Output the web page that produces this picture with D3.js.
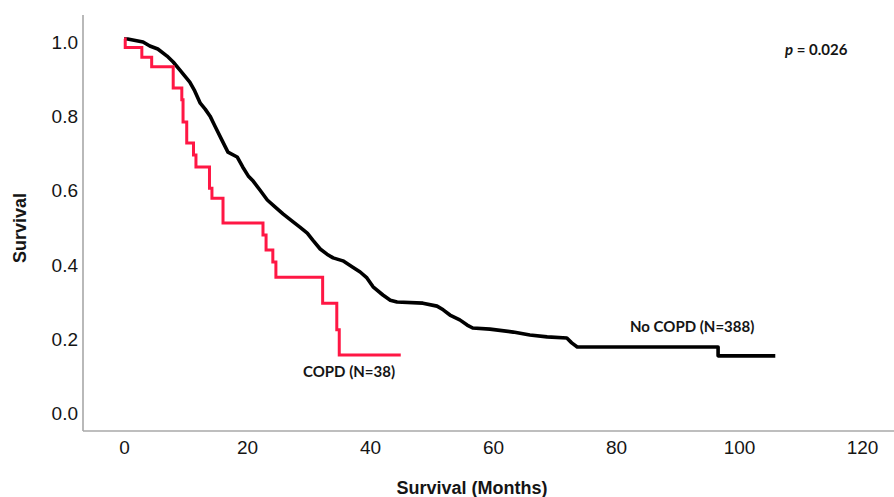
<!DOCTYPE html>
<html>
<head>
<meta charset="utf-8">
<script src="https://cdn.jsdelivr.net/npm/d3@7"></script>
<style>
  html, body { margin: 0; padding: 0; background: #fff; }
  .tick text { font-family: "Liberation Sans", Arial, sans-serif; font-size: 19px; fill: #151515; }
  .note { font-family: Lato, "Open Sans", sans-serif; font-weight: bold; font-size: 15px; fill: #151515; }
  .aTitle { font-family: "Liberation Sans", Arial, sans-serif; font-weight: bold; font-size: 18px; fill: #151515; }
</style>
</head>
<body>
<div id="chart"></div>
<script>
// Kaplan-Meier survival, COPD vs no COPD

// Data
// =========================
var xTicks = [0, 20, 40, 60, 80, 100, 120];
var yTicks = [0.0, 0.2, 0.4, 0.6, 0.8, 1.0];

// No COPD (N=388): many small steps, traced as points along the curve
var noCopdTime = [0, 0.6, 3.1, 4.2, 5.5, 7.0, 8.0, 9.1, 9.9, 10.7, 11.5, 12.4, 13.2, 14.0, 14.8, 15.9, 16.9,
    18.4, 19.3, 20.2, 21.0, 22.1, 23.3, 24.6, 25.9, 27.5, 28.6, 29.8, 30.7, 31.9, 33.0, 34.0, 35.6,
    37.2, 38.4, 39.5, 40.5, 42.1, 43.3, 44.4, 48.6, 50.9, 51.9, 53.0, 54.6, 55.8, 56.7, 59.5, 63.3,
    66.0, 68.8, 72.0, 72.8, 73.7, 96.6, 96.6, 105.9];
var noCopdSurv = [1.0, 1.0, 0.992, 0.981, 0.973, 0.954, 0.938, 0.916, 0.900, 0.884, 0.860, 0.827, 0.811, 0.792, 0.765, 0.728, 0.695,
    0.682, 0.655, 0.631, 0.617, 0.593, 0.566, 0.547, 0.528, 0.507, 0.493, 0.477, 0.458, 0.434, 0.420, 0.410, 0.402,
    0.385, 0.372, 0.356, 0.332, 0.310, 0.296, 0.291, 0.288, 0.280, 0.270, 0.256, 0.243, 0.229, 0.221, 0.218, 0.210,
    0.202, 0.197, 0.194, 0.181, 0.170, 0.170, 0.146, 0.146];

// COPD (N=38): time of each step and survival after it
var copdTime = [0, 0.2, 2.9, 4.5, 8.0, 9.4, 9.6, 10.2, 11.3, 11.7, 13.9, 14.3, 16.1, 22.6, 23.1, 24.2, 24.7, 32.3, 34.6, 35.0, 45.0];
var copdSurv = [1.0, 0.977, 0.951, 0.925, 0.868, 0.836, 0.776, 0.720, 0.687, 0.655, 0.598, 0.571, 0.504, 0.472, 0.431, 0.399, 0.358, 0.288, 0.216, 0.148, 0.148];

// Size and frame
// ==============
var width = 894;
var height = 497;
var axisX = 83;    // where the left axis line sits
var axisY = 431;   // where the bottom axis line sits

var svg = d3.select("#chart")
    .append("svg")
    .attr("width", width)
    .attr("height", height);

var xScale = d3.scaleLinear().domain([0, 120]).range([124, 862]);
var yScale = d3.scaleLinear().domain([0, 1]).range([410, 39]);

// Axes (no tick marks, just labels)
var xAxis = d3.axisBottom(xScale)
    .tickValues(xTicks)
    .tickSize(0)
    .tickPadding(10)
    .tickFormat(d3.format("d"));
var yAxis = d3.axisLeft(yScale)
    .tickValues(yTicks)
    .tickSize(0)
    .tickPadding(5)
    .tickFormat(d3.format(".1f"));

var gx = svg.append("g")
    .attr("class", "xAxis")
    .attr("transform", "translate(0," + axisY + ")")
    .call(xAxis);
gx.select(".domain").remove();

var gy = svg.append("g")
    .attr("class", "yAxis")
    .attr("transform", "translate(" + axisX + ",0)")
    .call(yAxis);
gy.select(".domain").remove();
gy.selectAll("text").attr("dy", "0.5em");

// Axis lines
svg.append("line")
    .attr("x1", axisX).attr("x2", axisX)
    .attr("y1", 15).attr("y2", axisY)
    .attr("stroke", "#a8a8a8").attr("stroke-width", 1.6);
svg.append("line")
    .attr("x1", axisX).attr("x2", width)
    .attr("y1", axisY).attr("y2", axisY)
    .attr("stroke", "#a8a8a8").attr("stroke-width", 1.6);

// Axis titles
svg.append("text")
    .attr("class", "aTitle")
    .attr("text-anchor", "middle")
    .attr("x", 472)
    .attr("y", 494)
    .text("Survival (Months)");

svg.append("text")
    .attr("class", "aTitle")
    .attr("text-anchor", "middle")
    .attr("transform", "translate(26,228)rotate(-90)")
    .text("Survival");

// Curves
// ======
var kmSmooth = d3.line()
    .x(function(d) { return xScale(d[0]); })
    .y(function(d) { return yScale(d[1]); });

var kmStep = d3.line()
    .x(function(d) { return xScale(d[0]); })
    .y(function(d) { return yScale(d[1]); })
    .curve(d3.curveStepAfter);

var noCopd = d3.zip(noCopdTime, noCopdSurv);
var copd = d3.zip(copdTime, copdSurv);

svg.append("path")
    .datum(noCopd)
    .attr("d", kmSmooth)
    .attr("fill", "none")
    .attr("stroke", "#000")
    .attr("stroke-width", 3.6)
    .attr("stroke-linejoin", "round");

svg.append("path")
    .datum(copd)
    .attr("d", kmStep)
    .attr("fill", "none")
    .attr("stroke", "#ff1744")
    .attr("stroke-width", 3);

// Labels on the plot
svg.append("text")
    .attr("class", "note")
    .attr("x", 630)
    .attr("y", 332)
    .text("No COPD (N=388)");

svg.append("text")
    .attr("class", "note")
    .attr("x", 303)
    .attr("y", 377)
    .text("COPD (N=38)");

var pText = svg.append("text")
    .attr("class", "note")
    .attr("x", 785)
    .attr("y", 55);
pText.append("tspan").attr("font-style", "italic").text("p");
pText.append("tspan").text(" = 0.026");
</script>
</body>
</html>
